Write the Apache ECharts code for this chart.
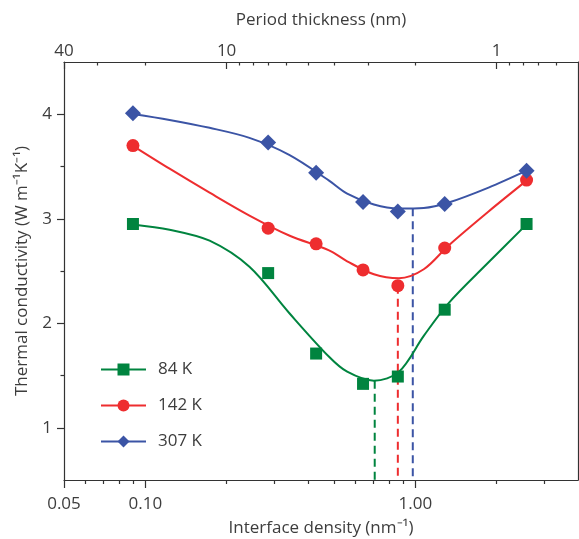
<!DOCTYPE html>
<html><head><meta charset="utf-8">
<script src="https://cdn.jsdelivr.net/npm/echarts@6/dist/echarts.min.js"></script>
<style>html,body{margin:0;padding:0;background:#fff}#c{width:579px;height:539px}</style>
</head><body><div id="c"></div>
<script>
// measured points
const density = [0.09, 0.285, 0.429, 0.64, 0.861, 1.284, 2.58];
const k84  = [2.95, 2.48, 1.71, 1.42, 1.49, 2.13, 2.95];
const k142 = [3.70, 2.91, 2.76, 2.51, 2.36, 2.72, 3.37];
const k307 = [4.01, 3.73, 3.44, 3.16, 3.07, 3.14, 3.46];
// fitted curves (at sample densities)
const fitX   = [0.09, 0.123, 0.173, 0.243, 0.341, 0.479, 0.559, 0.702, 0.869, 1.074, 1.328, 1.866, 2.58];
const fit84  = [2.946, 2.895, 2.790, 2.540, 2.098, 1.679, 1.536, 1.450, 1.536, 1.879, 2.193, 2.583, 2.946];
const fit142 = [3.698, 3.479, 3.250, 3.031, 2.840, 2.698, 2.593, 2.469, 2.431, 2.517, 2.745, 3.070, 3.365];
const fit307 = [4.003, 3.946, 3.870, 3.774, 3.612, 3.365, 3.241, 3.136, 3.098, 3.103, 3.155, 3.298, 3.460];
// minima (dashed drop lines)
const minX = [0.707, 0.861, 0.978];
const minY = [1.45, 2.36, 3.10];
const yFloor = 0.5;
// axis ticks
const densityMajor = [0.05, 0.1, 1];
const densityMinor = [0.06, 0.07, 0.08, 0.09, 0.2, 0.3, 0.4, 0.5, 0.6, 0.7, 0.8, 0.9, 2, 3];
const periodMajor = [40, 10, 1];
const periodMinor = [30, 20, 9, 8, 7, 6, 5, 4, 3, 2, 0.9, 0.8, 0.7, 0.6];
const yMajor = [1, 2, 3, 4];
const yMinor = [1.5, 2.5, 3.5];
const names = ['84 K', '142 K', '307 K'];
const colors = ['#00843f', '#ee2d2f', '#3b54a5'];
const symbols = ['rect', 'circle', 'diamond'];
const symSizes = [12, 13, 16];

const FONT = 'Open Sans';
const TXT = '#3d3d3d';
const LINE = '#333';
const toP = d => 2 / d;
const zip = (xs, ys) => xs.map((x, i) => [x, ys[i]]);
const gridRect = {left: 64, right: 1, top: 62, bottom: 59, outerBoundsMode: 'none', containLabel: false};

const series = [];
const fits = [fit84, fit142, fit307];
const pts = [k84, k142, k307];
for (let i = 0; i < 3; i++) {
  series.push({
    name: 'drop' + i, type: 'line', xAxisIndex: 0, yAxisIndex: 0,
    data: zip([minX[i], minX[i]], [minY[i], yFloor]),
    showSymbol: false, symbol: 'none', silent: true, z: 1,
    lineStyle: {color: colors[i], width: 2, type: [8, 5]}
  });
}
for (let i = 0; i < 3; i++) {
  series.push({
    name: names[i], type: 'line', xAxisIndex: 0, yAxisIndex: 0,
    data: zip(fitX, fits[i]), smooth: 0.33,
    showSymbol: false, symbol: symbols[i], z: 2,
    itemStyle: {color: colors[i]},
    lineStyle: {color: colors[i], width: 2}
  });
  series.push({
    name: 'pts' + i, type: 'scatter', xAxisIndex: 0, yAxisIndex: 0,
    data: zip(density, pts[i]), symbol: symbols[i], symbolSize: symSizes[i], z: 3,
    itemStyle: {color: colors[i], opacity: 1}
  });
}

const lbl = {fontFamily: FONT, fontSize: 17, color: TXT};
const nameStyle = {fontFamily: FONT, fontSize: 17, color: TXT};

const option = {
  animation: false,
  backgroundColor: '#fff',
  grid: [Object.assign({}, gridRect), Object.assign({}, gridRect)],
  legend: {
    data: names, orient: 'vertical', left: 95, top: 356,
    itemWidth: 45, itemHeight: 15, itemGap: 19,
    textStyle: {fontFamily: FONT, fontSize: 17, color: TXT, padding: [0, 0, 0, 7]}
  },
  xAxis: [
    { type: 'log', gridIndex: 0, position: 'bottom', min: 0.05, max: 4, logBase: 10,
      name: 'Interface density (nm\u207B\u00B9)', nameLocation: 'middle', nameGap: 40, nameTextStyle: nameStyle,
      axisLine: {show: true, lineStyle: {color: LINE, width: 1.2}},
      axisTick: {show: true, customValues: densityMajor, length: 8, lineStyle: {color: LINE, width: 1.2}},
      axisLabel: {show: true, customValues: densityMajor, margin: 16, formatter: v => Number(v).toFixed(2), ...lbl},
      splitLine: {show: false}, minorTick: {show: false} },
    { type: 'log', gridIndex: 0, position: 'top', min: 0.05, max: 4, logBase: 10,
      name: 'Period thickness (nm)', nameLocation: 'middle', nameGap: 33, nameTextStyle: nameStyle,
      axisLine: {show: true, lineStyle: {color: LINE, width: 1.2}},
      axisTick: {show: true, inside: true, customValues: periodMajor.map(toP), length: 7, lineStyle: {color: LINE, width: 1.2}},
      axisLabel: {show: true, customValues: periodMajor.map(toP), margin: 2, formatter: v => String(Math.round(toP(v) * 100) / 100), ...lbl},
      splitLine: {show: false} },
    { type: 'log', gridIndex: 1, position: 'bottom', min: 0.05, max: 4, logBase: 10,
      axisLine: {show: false},
      axisTick: {show: true, customValues: densityMinor, length: 4, lineStyle: {color: LINE, width: 1.2}},
      axisLabel: {show: false}, splitLine: {show: false} },
    { type: 'log', gridIndex: 1, position: 'top', min: 0.05, max: 4, logBase: 10,
      axisLine: {show: false},
      axisTick: {show: true, inside: true, customValues: periodMinor.map(toP), length: 3.5, lineStyle: {color: LINE, width: 1.2}},
      axisLabel: {show: false}, splitLine: {show: false} }
  ],
  yAxis: [
    { type: 'value', gridIndex: 0, position: 'left', min: 0.5, max: 4.5,
      name: 'Thermal conductivity (W m\u207B\u00B9K\u207B\u00B9)', nameLocation: 'middle', nameGap: 33, nameTextStyle: nameStyle,
      axisLine: {show: true, lineStyle: {color: LINE, width: 1.2}},
      axisTick: {show: true, customValues: yMajor, length: 7, lineStyle: {color: LINE, width: 1.2}},
      axisLabel: {show: true, customValues: yMajor, margin: 12, ...lbl},
      splitLine: {show: false} },
    { type: 'value', gridIndex: 0, position: 'right', min: 0.5, max: 4.5,
      axisLine: {show: true, lineStyle: {color: LINE, width: 1.2}},
      axisTick: {show: false}, axisLabel: {show: false}, splitLine: {show: false} },
    { type: 'value', gridIndex: 1, position: 'left', min: 0.5, max: 4.5,
      axisLine: {show: false},
      axisTick: {show: true, customValues: yMinor, length: 3.5, lineStyle: {color: LINE, width: 1.2}},
      axisLabel: {show: false}, splitLine: {show: false} }
  ],
  series: series
};
const chart = echarts.init(document.getElementById('c'), null, {renderer: 'canvas'});
chart.setOption(option);
</script>
</body></html>
